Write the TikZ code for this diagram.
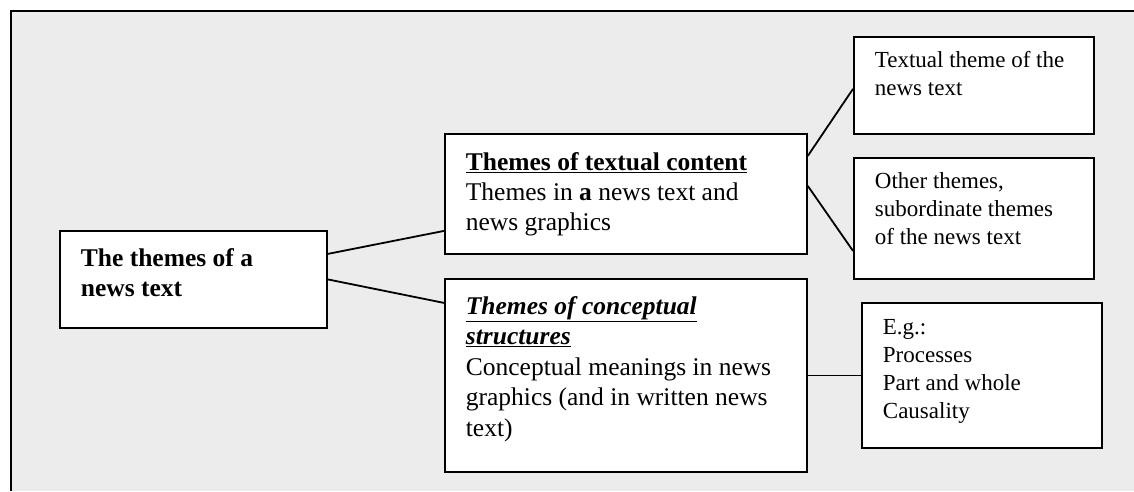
\documentclass[tikz,border=0pt]{standalone}
\usepackage{fontspec}
\setmainfont{Liberation Serif}
\usepackage{xcolor}
\definecolor{paper}{gray}{0.925}
\hyphenpenalty=10000
\exhyphenpenalty=10000

\tikzset{
  box/.style={draw, fill=white, line width=1.8pt, anchor=north west,
    align=flush left, inner xsep=21pt, inner ysep=0pt},
  bigtext/.style={font=\fontsize{25.5}{30}\selectfont},
  smalltext/.style={font=\fontsize{23}{28}\selectfont},
  link/.style={line width=1.8pt}
}

\begin{document}
\begin{tikzpicture}
	[x=1pt, y=-1pt]
	\useasboundingbox (0,0) rectangle (1134,491);
	% shaded panel, open at the right and at the bottom
	\fill [paper] (11,11) rectangle (1134,491);
	\draw [line width=1.8pt] (11,491) -- (11,11) -- (1134,11);

	\node [box, bigtext, text width=225pt, minimum height=97pt, text depth=44pt] (root) at (59,230)
		{\textbf{The themes of a news text}};
	\node [box, bigtext, text width=320pt, minimum height=120pt] (textual) at (444,133)
		{\underline{\textbf{Themes of textual content}}\\
		 Themes in \textbf{a} news text and news graphics};
	\node [box, bigtext, text width=320pt, minimum height=193pt, text depth=140pt,
		font=\fontsize{25.5}{30.5}\selectfont] (concept) at (444,278)
		{\underline{\textbf{\textit{Themes of conceptual}}}\\
		 \underline{\textbf{\textit{structures}}}\\
		 Conceptual meanings in news graphics (and in written news text)};
	\node [box, smalltext, text width=198pt, minimum height=97pt, text depth=52pt] (r1) at (853,36)
		{Textual theme of the news text};
	\node [box, smalltext, text width=198pt, minimum height=121pt, text depth=76pt] (r2) at (853,157)
		{Other themes, subordinate themes of the news text};
	\node [box, smalltext, text width=198pt, minimum height=145pt, text depth=97pt] (r3) at (861,302)
		{E.g.:\\ Processes\\ Part and whole\\ Causality};

	\draw [link] ([yshift=25.5pt]root.east) -- ([yshift=-37pt]textual.west);
	\draw [link] (root.east) -- ([yshift=72.5pt]concept.west);
	\draw [link] ([yshift=38pt]textual.east) -- ([yshift=-3.5pt]r1.west);
	\draw [link] ([yshift=8pt]textual.east) -- ([yshift=-32.5pt]r2.west);
	\draw [link] (concept.east) -- (r3.west);
\end{tikzpicture}
\end{document}
